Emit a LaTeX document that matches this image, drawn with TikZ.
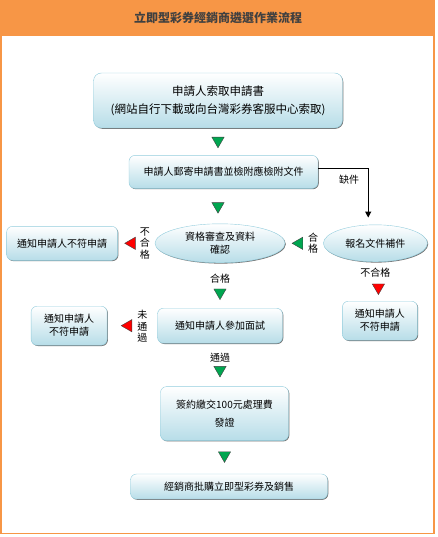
\documentclass[tikz,border=0pt]{standalone}
\usepackage{fontspec}
\setmainfont{Noto Sans CJK TC}
\usetikzlibrary{arrows.meta,positioning,shapes.geometric,shadows}
\definecolor{Orange}{HTML}{F79646}
\definecolor{TitleGray}{HTML}{404040}
\definecolor{Edge}{HTML}{93CDDD}
\definecolor{Pale}{HTML}{B7DDE8}
\definecolor{Go}{HTML}{00A650}
\definecolor{Stop}{HTML}{FF0000}

\begin{document}
\begin{tikzpicture}[
  x=1pt,y=-1pt,
  every node/.style={font=\fontsize{10}{13}\selectfont},
  box/.style={draw=Edge,rounded corners=6pt,top color=white,bottom color=Pale,align=center,inner sep=2pt,
    drop shadow={shadow xshift=.8pt,shadow yshift=-.8pt,opacity=.55,fill=black}},
  oval/.style={ellipse,draw=Edge,top color=white,bottom color=Pale,align=center,inner sep=1pt,
    drop shadow={shadow xshift=.8pt,shadow yshift=-.8pt,opacity=.55,fill=black}},
  go/.style={regular polygon,regular polygon sides=3,minimum size=14.2pt,inner sep=0pt,draw=black!75,fill=Go},
  stop/.style={go,fill=Stop},
  pointdown/.style={shape border rotate=180},
  pointleft/.style={shape border rotate=90},
  tag/.style={inner sep=0pt,align=center,font=\fontsize{10}{11.5}\selectfont},
  arr/.style={-{Triangle[width=6pt,length=6pt]},line width=1pt,color=black}
]
\useasboundingbox (0,0) rectangle (438,537);
\fill[Orange] (0,0) rectangle (435,36);
\draw[Orange,line width=1.5pt] (0.75,0.75) rectangle (434,533.5);
\node[font=\fontsize{12}{14}\selectfont\bfseries,text=TitleGray] (title) at (218,18) {立即型彩券經銷商遴選作業流程};

\node[box,rounded corners=8pt,minimum width=249pt,minimum height=55pt,font=\fontsize{11.5}{18}\selectfont] (req) at (218,100.5) {申請人索取申請書\\(網站自行下載或向台灣彩券客服中心索取)};
\node[box,minimum width=189pt,minimum height=33pt,below=27pt of req,xshift=5.5pt] (apply) {申請人郵寄申請書並檢附應檢附文件};
\node[oval,minimum width=130pt,minimum height=39pt,below=35pt of apply,xshift=-3.5pt] (check) {資格審查及資料\\確認};
\node[oval,minimum width=104pt,minimum height=37pt,right=38pt of check] (sup) {報名文件補件};
\node[box,minimum width=111pt,minimum height=34pt,left=37pt of check] (reject1) {通知申請人不符申請};
\node[box,minimum width=125pt,minimum height=35pt,below=45pt of check] (interview) {通知申請人參加面試};
\node[box,minimum width=76pt,minimum height=39pt,left=50pt of interview] (reject2) {通知申請人\\不符申請};
\node[box,minimum width=75pt,minimum height=39pt,below=39pt of sup,xshift=4.5pt] (reject3) {通知申請人\\不符申請};
\node[box,minimum width=128pt,minimum height=54pt,below=43pt of interview,xshift=4.5pt,font=\fontsize{10}{18}\selectfont] (sign) {簽約繳交100元處理費\\發證};
\node[box,minimum width=197pt,minimum height=25pt,below=33pt of sign,xshift=4.5pt] (sell) {經銷商批購立即型彩券及銷售};

\node[go,pointdown] (t1) at ([yshift=-12.5pt]req.south) {};
\node[go,pointdown] (t2) at ([xshift=-5.5pt,yshift=-17.5pt]apply.south) {};
\node[tag] (pass1) at ([yshift=-16pt]check.south) {合格};
\node[go,pointdown] (t3) at ([yshift=-29.5pt]check.south) {};
\node[tag] (fail1) at ([xshift=-10pt]check.west) {不\\合\\格};
\node[stop,pointleft] (t4) at ([xshift=-23pt]check.west) {};
\node[tag] (pass2) at ([xshift=-10pt]sup.west) {合\\格};
\node[go,pointleft] (t5) at ([xshift=-24pt]sup.west) {};
\node[tag] (fail2) at ([yshift=-11pt]sup.south) {不合格};
\node[stop,pointdown] (t6) at ([xshift=3pt,yshift=-25.5pt]sup.south) {};
\node[tag] (fail3) at ([xshift=-15pt,yshift=-1pt]interview.west) {未\\通\\過};
\node[stop,pointleft] (t7) at ([xshift=-29pt]interview.west) {};
\node[tag] (pass3) at ([yshift=-14pt]interview.south) {通過};
\node[go,pointdown] (t8) at ([yshift=-26.5pt]interview.south) {};
\node[go,pointdown] (t9) at ([yshift=-14.5pt]sign.south) {};

\draw[arr,shorten >=7pt] ([yshift=3pt]apply.east) -- ++(50,0) coordinate (bend) -- (bend |- sup.north);
\node[tag,below left=6pt and 9pt of bend] (missing) {缺件};
\end{tikzpicture}
\end{document}
